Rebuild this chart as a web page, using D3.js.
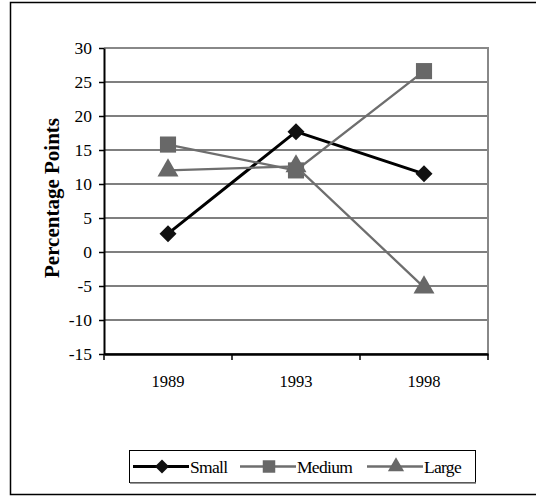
<!DOCTYPE html>
<html>
<head>
<meta charset="utf-8">
<script src="https://cdn.jsdelivr.net/npm/d3@7"></script>
<style>
  body { margin: 0; background: #fff; }
  svg { display: block; font-family: "Liberation Serif", "Times New Roman", serif; }
</style>
</head>
<body>
<div id="chart"></div>
<script>
// chart data
const years = ["1989", "1993", "1998"];
const small = [2.7, 17.7, 11.5];
const medium = [15.8, 12.0, 26.6];
const large = [12.0, 12.6, -5.2];
const yTicks = [-15, -10, -5, 0, 5, 10, 15, 20, 25, 30];

const width = 536;
const height = 496;
const plot = { left: 104, right: 488, top: 48, bottom: 354 };

const svg = d3.select("#chart")
  .append("svg")
  .attr("width", width)
  .attr("height", height);

// outer frame
svg.append("rect")
  .attr("x", 10.5).attr("y", 2.5)
  .attr("width", 540).attr("height", 492)
  .attr("fill", "none").attr("stroke", "#000").attr("stroke-width", 1.5);

const x = d3.scaleBand().domain(years).range([plot.left, plot.right]);
const y = d3.scaleLinear().domain([-15, 30]).range([plot.bottom, plot.top]);

// gridlines
svg.append("g")
  .selectAll("line")
  .data(yTicks)
  .enter()
  .append("line")
  .attr("x1", plot.left).attr("x2", plot.right)
  .attr("y1", (d) => y(d)).attr("y2", (d) => y(d))
  .attr("stroke", "#555").attr("stroke-width", 1.6);

// plot border (top, right) in grey
svg.append("path")
  .attr("d", `M${plot.left},${plot.top} H${plot.right} V${plot.bottom}`)
  .attr("fill", "none").attr("stroke", "#888").attr("stroke-width", 2);

// y axis
const yAxis = d3.axisLeft(y).tickValues(yTicks).tickFormat((d) => String(d))
  .tickSize(5).tickSizeOuter(0).tickPadding(7);
const gy = svg.append("g").attr("transform", `translate(${plot.left},0)`).call(yAxis);
gy.select(".domain").attr("stroke", "#000").attr("stroke-width", 2);
gy.selectAll(".tick line").attr("stroke", "#000").attr("stroke-width", 1.5);
gy.selectAll("text").attr("font-size", 17.5).attr("fill", "#000")
  .attr("font-family", "Liberation Serif, serif");

// x axis
const xAxis = d3.axisBottom(x).tickSize(0).tickPadding(21);
const gx = svg.append("g").attr("transform", `translate(0,${plot.bottom})`).call(xAxis);
gx.select(".domain").attr("stroke", "#000").attr("stroke-width", 2.5);
gx.selectAll("text").attr("font-size", 16.5).attr("fill", "#000")
  .attr("font-family", "Liberation Serif, serif");
// category boundary ticks
gx.selectAll(".sep")
  .data(years.concat(["end"]))
  .enter()
  .append("line")
  .attr("class", "sep")
  .attr("x1", (d, i) => plot.left + i * x.step())
  .attr("x2", (d, i) => plot.left + i * x.step())
  .attr("y1", 0).attr("y2", 6)
  .attr("stroke", "#000").attr("stroke-width", 1.5);

// y label
svg.append("text")
  .attr("transform", `translate(59,${(plot.top + plot.bottom) / 2 - 3}) rotate(-90)`)
  .attr("text-anchor", "middle")
  .attr("font-size", 21)
  .attr("font-weight", "bold")
  .text("Percentage Points");

const cx = (d, i) => x(years[i]) + x.bandwidth() / 2;
const line = d3.line().x((d, i) => cx(d, i)).y((d) => y(d));

const series = [
  { name: "Small", values: small, color: "#000", fill: "#111", width: 3, shape: d3.symbolDiamond, size: 150 },
  { name: "Medium", values: medium, color: "#6e6e6e", fill: "#686868", width: 2.3, shape: d3.symbolSquare, size: 260 },
  { name: "Large", values: large, color: "#6e6e6e", fill: "#686868", width: 2.3, shape: d3.symbolTriangle, size: 190 },
];

function symbolPath(s) {
  if (s.shape === d3.symbolDiamond) {
    // wider diamond like the original
    return "M0,-8.5 L8.5,0 L0,8.5 L-8.5,0 Z";
  }
  return d3.symbol().type(s.shape).size(s.size)();
}

series.forEach((s) => {
  svg.append("path")
    .datum(s.values)
    .attr("d", line)
    .attr("fill", "none")
    .attr("stroke", s.color)
    .attr("stroke-width", s.width);
  svg.append("g")
    .selectAll("path")
    .data(s.values)
    .enter()
    .append("path")
    .attr("d", symbolPath(s))
    .attr("transform", (d, i) => `translate(${cx(d, i)},${y(d)})`)
    .attr("fill", s.fill);
});

// legend
const legend = svg.append("g");
legend.append("rect")
  .attr("x", 129.5).attr("y", 450.5)
  .attr("width", 346).attr("height", 32)
  .attr("fill", "#fff").attr("stroke", "#000").attr("stroke-width", 1);
legend.append("line")
  .attr("x1", 130).attr("x2", 476).attr("y1", 483).attr("y2", 483)
  .attr("stroke", "#777").attr("stroke-width", 1.5);

const legendX = [133, 240, 367];
const legendY = 466.5;
series.forEach((s, i) => {
  const lx = legendX[i];
  legend.append("line")
    .attr("x1", lx).attr("x2", lx + 56)
    .attr("y1", legendY).attr("y2", legendY)
    .attr("stroke", s.color).attr("stroke-width", s.width);
  legend.append("path")
    .attr("d", s.shape === d3.symbolDiamond ? "M0,-7 L7,0 L0,7 L-7,0 Z" : d3.symbol().type(s.shape).size(s.size * 0.6)())
    .attr("transform", `translate(${lx + 29},${legendY})`)
    .attr("fill", s.fill);
  legend.append("text")
    .attr("x", lx + 57).attr("y", legendY + 6)
    .attr("font-size", 17.5)
    .attr("letter-spacing", -0.7)
    .text(s.name);
});
</script>
</body>
</html>
